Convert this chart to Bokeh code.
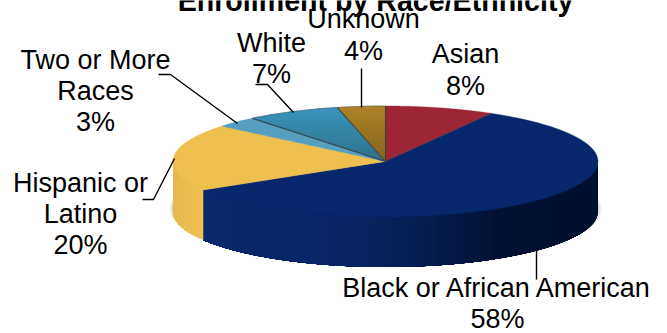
import numpy as np
from bokeh.plotting import figure
from bokeh.embed import file_html
from bokeh.resources import INLINE
from bokeh.core.properties import value

# ---- data ----
categories = ["Asian", "Black or African American", "Hispanic or Latino",
              "Two or More Races", "White", "Unknown"]
percents = [8.3, 58.1, 19.6, 3.2, 7.15, 3.65]
title_text = "Enrollment by Race/Ethnicity"
label_lines = [["Asian", "8%"], ["Black or African American", "58%"],
               ["Hispanic or", "Latino", "20%"], ["Two or More", "Races", "3%"],
               ["White", "7%"], ["Unknown", "4%"]]

# ---- style / layout ----
CX, CY, RX, RY, DEPTH = 385.0, 161.0, 212.5, 55.5, 50.0
FONT = value("Liberation Sans")
top_grad = [("#9c2536", "#9c2536"), ("#06276b", "#06276b"), ("#efbf4f", "#efbf4f"),
            ("#569fc0", "#56a0c0"), ("#3a95bd", "#2e6f8b"), ("#ad8328", "#84621f")]
LABEL_SHIFT, TITLE_SHIFT = -9.5, -9.0
label_pos = [(465, [63, 95]), (497, [297, 328]), (80, [192, 223, 254]),
             (95, [69, 100, 131]), (271, [52, 83]), (363, [28, 60])]
leaders = [([158, 170, 237], [74, 74, 123]), ([255, 267, 293], [84, 84, 112]),
           ([361, 361], [68, 107]), ([142, 153, 174], [199, 199, 158]),
           ([536, 536], [250, 279])]
blue_stops_x = [203, 340, 430, 500, 600]
blue_stops_c = ["#07286b", "#072566", "#061c4e", "#021135", "#00102f"]
yellow_stops_x = [172, 203]
yellow_stops_c = ["#e6b94e", "#efc050"]


def hex2rgb(h):
    return np.array([int(h[i:i + 2], 16) for i in (1, 3, 5)], float)


def mix(a, b, t):
    c = hex2rgb(a) * (1 - t) + hex2rgb(b) * t
    return "#%02x%02x%02x" % tuple(int(round(v)) for v in c)


def ramp(x, xs, cols):
    rgb = np.array([hex2rgb(c) for c in cols])
    return "#%02x%02x%02x" % tuple(int(round(np.interp(x, xs, rgb[:, k]))) for k in range(3))


def pt(a):
    r = np.radians(a)
    return CX + RX * np.sin(r), CY - RY * np.cos(r)


def clip(poly, y0, y1):
    def half(pts, inside, yb):
        out = []
        for i in range(len(pts)):
            q0, q1 = pts[i], pts[(i + 1) % len(pts)]
            ip, iq = inside(q0[1]), inside(q1[1])
            if ip:
                out.append(q0)
            if ip != iq:
                t = (yb - q0[1]) / (q1[1] - q0[1])
                out.append((q0[0] + t * (q1[0] - q0[0]), yb))
        return out
    r = half(poly, lambda y: y >= y0, y0)
    if r:
        r = half(r, lambda y: y <= y1, y1)
    return r


p = figure(width=667, height=333, x_range=(0, 667), y_range=(333, 0),
           output_backend="svg", toolbar_location=None, min_border=0,
           outline_line_color=None, background_fill_color="white")
p.axis.visible = False
p.grid.visible = False

# soft shadow under the pie
for grow, alpha in [(4, 0.05), (2.8, 0.08), (1.6, 0.12), (0.6, 0.16)]:
    a = np.linspace(0, 360, 181)
    xs = CX + (RX + grow) * np.sin(np.radians(a))
    ys = CY + DEPTH - 3 + (RY + grow) * np.cos(np.radians(a))
    p.patch(xs, ys, fill_color="#707070", fill_alpha=alpha, line_color=None)

edges = np.concatenate([[0], np.cumsum(percents)]) * 3.6

# side wall: each strip runs on to the wall's far end, later strips cover it
for i in range(len(percents)):
    s, e = max(edges[i], 90), min(edges[i + 1], 270)
    if e <= s:
        continue
    black = categories[i].startswith("Black")
    steps = np.arange(s, e, 2.0).tolist() + [e]
    for a0, a1 in zip(steps[:-1], steps[1:]):
        arc = np.linspace(a0, e, 60)
        xa = [pt(a)[0] for a in arc]
        ya = [pt(a)[1] for a in arc]
        xm = (pt(a0)[0] + pt(a1)[0]) / 2
        col = ramp(xm, blue_stops_x, blue_stops_c) if black else ramp(xm, yellow_stops_x, yellow_stops_c)
        p.patch(xa + xa[::-1], ya + [y + DEPTH for y in ya[::-1]],
                fill_color=col, line_color=None)

# top face
for i in range(len(percents)):
    arc = np.linspace(edges[i], edges[i + 1], 80)
    poly = [(CX, CY)] + [pt(a) for a in arc]
    c0, c1 = top_grad[i]
    if c0 == c1:
        p.patch([q[0] for q in poly], [q[1] for q in poly], fill_color=c0, line_color=c0, line_width=0.4)
    else:
        band = 3.0
        for y in np.arange(CY - RY, CY + 1, band):
            sub = clip(poly, y, y + band)
            if len(sub) < 3:
                continue
            col = mix(c0, c1, (y - (CY - RY)) / RY)
            p.patch([q[0] for q in sub], [q[1] for q in sub], fill_color=col, line_color=col, line_width=0.4)

# dark edges of the two small slices
for a in [edges[4], edges[5], edges[6]]:
    x, y = pt(a)
    p.line([CX, x], [CY, y], line_color="#333a3c", line_width=1.1, line_alpha=0.85)
arc = np.linspace(edges[4], edges[6], 40)
p.line([pt(a)[0] for a in arc], [pt(a)[1] for a in arc], line_color="#445a60", line_width=0.8, line_alpha=0.7)

# leaders
for lx, ly in leaders:
    p.line(lx, ly, line_color="black", line_width=1.4)

# labels
for lines, (x, ys) in zip(label_lines, label_pos):
    p.text([x] * len(lines), [y + LABEL_SHIFT for y in ys], text=lines, text_font=FONT, text_font_size="27px",
           text_color="black", text_align="center", text_baseline="alphabetic")

p.text([375], [9 + TITLE_SHIFT], text=[title_text], text_font=FONT, text_font_size="28.6px",
       text_font_style="bold", text_color="black", text_align="center", text_baseline="alphabetic")

open("out.html", "w").write(file_html(p, INLINE))
